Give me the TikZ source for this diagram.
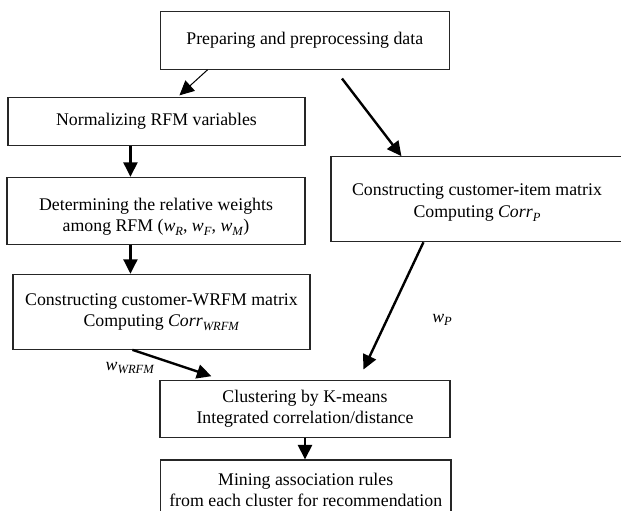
\documentclass[tikz,border=0pt]{standalone}
\usepackage{fontspec}
\setmainfont{Liberation Serif}
\usetikzlibrary{arrows.meta}
\newcommand{\isub}[2]{\textit{#1}\raisebox{-0.45ex}{\fontsize{12.5}{12.5}\selectfont\textit{#2}}}
\begin{document}
\begin{tikzpicture}[x=1pt,y=-1pt,
  box/.style={draw=black!85,line width=1.1pt,rectangle,align=center,inner sep=0pt,
    font=\fontsize{17.8}{21.5}\selectfont},
  arr/.style={line width=2.4pt,-{Triangle[length=14.5pt,width=14pt]}},
  thinarr/.style={line width=1pt,-{Triangle[length=14.5pt,width=14pt]}},
  lbl/.style={font=\fontsize{17.8}{21.5}\selectfont,inner sep=0pt,align=center}]
\useasboundingbox (0,0) rectangle (621,511);
\clip (0,0) rectangle (621,511);
\node[box,minimum width=289.5pt,minimum height=57.6pt] (b1) at (304.8,40.5) {Preparing and preprocessing data};
\node[box,minimum width=297pt,minimum height=48pt] (b2) at (156.5,121.4) {Normalizing RFM variables};
\node[box,minimum width=298pt,minimum height=66.7pt] (b3) at (156,210.7) {};
\node[lbl] (b3t) at ([yshift=-6pt]b3.center) {Determining the relative weights\\among RFM (\isub{w}{R}, \isub{w}{F}, \isub{w}{M})};
\node[box,minimum width=297pt,minimum height=75pt] (b4) at (161.5,311.8) {Constructing customer-WRFM matrix\\Computing \isub{Corr}{WRFM}};
\node[box,minimum width=292pt,minimum height=85pt] (br) at (477,199.2) {};
\node[lbl] (brt) at ([yshift=-3.5pt]br.center) {Constructing customer-item matrix\\Computing \isub{Corr}{P}};
\node[box,minimum width=290pt,minimum height=57.3pt] (b5) at (305,408.7) {Clustering by K-means\\Integrated correlation/distance};
\node[box,minimum width=290.5pt,minimum height=60pt] (b6) at (305.7,490) {Mining association rules\\from each cluster for recommendation};
\node[lbl] (wp) at (442,320) {\isub{w}{P}};
\node[lbl] (ww) at (130,368) {\isub{w}{WRFM}};
\draw[thinarr] ([xshift=48pt]b1.south west) -- ([xshift=172pt,yshift=1.5pt]b2.north west);
\draw[arr] ([xshift=182.5pt,yshift=-8.7pt]b1.south west) -- ([xshift=71pt]br.north west);
\draw[arr] ([xshift=123pt]b2.south west) -- ([xshift=124pt]b3.north west);
\draw[arr] ([xshift=124pt]b3.south west) -- ([xshift=118pt]b4.north west);
\draw[arr] ([xshift=93pt]br.south west) -- ([xshift=204pt,yshift=10pt]b5.north west);
\draw[arr] ([xshift=120pt]b4.south west) -- ([xshift=52pt,yshift=3.3pt]b5.north west);
\draw[arr] (b5.south) -- (b6.north -| b5.south);
\end{tikzpicture}
\end{document}
